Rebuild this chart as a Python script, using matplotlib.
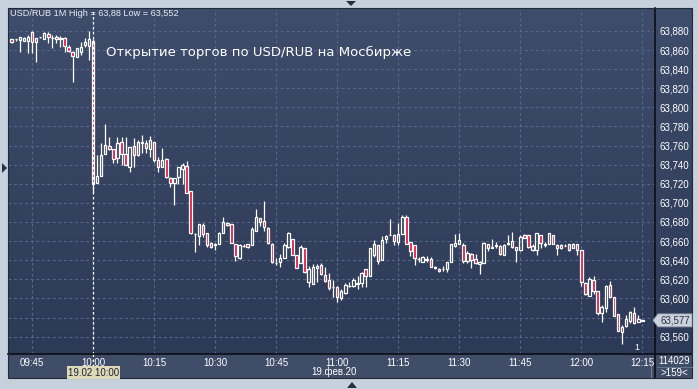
import matplotlib
matplotlib.use("Agg")
import matplotlib.pyplot as plt
import numpy as np
import pandas as pd
from matplotlib.patches import Rectangle, Polygon
from matplotlib.lines import Line2D
from matplotlib.ticker import FuncFormatter

# one-minute candles, 19.02.2020, starting 09:40
start_time = "2020-02-19 09:40"
opens = [
    63.8716, 63.8712, 63.8706, 63.8699, 63.8699, 63.8793, 63.8681, 63.8734, 63.8713, 63.8769,  # 09:40
    63.8723, 63.8713, 63.8720, 63.8723, 63.8636, 63.8584, 63.8531, 63.8584, 63.8653, 63.8646,  # 09:50
    63.8700, 63.7205, 63.7285, 63.7508, 63.7596, 63.7561, 63.7467, 63.7634, 63.7508, 63.7380,  # 10:00
    63.7596, 63.7502, 63.7632, 63.7630, 63.7561, 63.7641, 63.7450, 63.7373, 63.7457, 63.7264,  # 10:10
    63.7205, 63.7275, 63.7355, 63.7386, 63.7124, 63.6673, 63.6654, 63.6767, 63.6680, 63.6583,  # 10:20
    63.6563, 63.6565, 63.6686, 63.6791, 63.6775, 63.6567, 63.6426, 63.6547, 63.6567, 63.6559,  # 10:30
    63.6709, 63.6839, 63.6813, 63.6734, 63.6567, 63.6366, 63.6385, 63.6426, 63.6540, 63.6623,  # 10:40
    63.6456, 63.6368, 63.6525, 63.6169, 63.6151, 63.6322, 63.6350, 63.6245, 63.6193, 63.6115,  # 10:50
    63.6117, 63.6008, 63.6061, 63.6129, 63.6134, 63.6151, 63.6158, 63.6305, 63.6238, 63.6456,  # 11:00
    63.6562, 63.6404, 63.6618, 63.6665, 63.6667, 63.6590, 63.6677, 63.6851, 63.6590, 63.6559,  # 11:10
    63.6408, 63.6385, 63.6405, 63.6413, 63.6320, 63.6308, 63.6306, 63.6308, 63.6385, 63.6553,  # 11:20
    63.6570, 63.6562, 63.6391, 63.6462, 63.6409, 63.6361, 63.6370, 63.6566, 63.6530, 63.6546,  # 11:30
    63.6546, 63.6452, 63.6572, 63.6604, 63.6512, 63.6512, 63.6667, 63.6667, 63.6506, 63.6512,  # 11:40
    63.6667, 63.6564, 63.6566, 63.6667, 63.6562, 63.6559, 63.6547, 63.6570, 63.6531, 63.6570,  # 11:50
    63.6507, 63.6165, 63.6029, 63.6193, 63.6078, 63.5844, 63.5897, 63.6141, 63.6012, 63.5834,  # 12:00
    63.5652, 63.5715, 63.5768, 63.5844, 63.5757, 63.5768,  # 12:10
]
highs = [
    63.8720, 63.8720, 63.8734, 63.8734, 63.8758, 63.8800, 63.8723, 63.8741, 63.8793, 63.8793,
    63.8758, 63.8758, 63.8748, 63.8741, 63.8653, 63.8591, 63.8619, 63.8688, 63.8723, 63.8800,
    63.8713, 63.7502, 63.7624, 63.7826, 63.7693, 63.7561, 63.7693, 63.7693, 63.7693, 63.7589,
    63.7676, 63.7659, 63.7711, 63.7659, 63.7700, 63.7641, 63.7484, 63.7571, 63.7467, 63.7275,
    63.7258, 63.7373, 63.7421, 63.7439, 63.7124, 63.6680, 63.6779, 63.6789, 63.6684, 63.6592,
    63.6577, 63.6697, 63.6849, 63.6800, 63.6775, 63.6567, 63.6565, 63.6565, 63.6567, 63.6750,
    63.6936, 63.6839, 63.7020, 63.6750, 63.6577, 63.6420, 63.6462, 63.6577, 63.6697, 63.6623,
    63.6456, 63.6559, 63.6525, 63.6340, 63.6361, 63.6357, 63.6368, 63.6333, 63.6270, 63.6193,
    63.6131, 63.6096, 63.6165, 63.6176, 63.6211, 63.6235, 63.6280, 63.6305, 63.6525, 63.6607,
    63.6562, 63.6649, 63.6660, 63.6835, 63.6677, 63.6789, 63.6869, 63.6876, 63.6590, 63.6559,
    63.6437, 63.6448, 63.6440, 63.6430, 63.6340, 63.6322, 63.6340, 63.6378, 63.6570, 63.6674,
    63.6681, 63.6580, 63.6500, 63.6480, 63.6470, 63.6395, 63.6590, 63.6572, 63.6626, 63.6590,
    63.6556, 63.6572, 63.6667, 63.6691, 63.6534, 63.6663, 63.6677, 63.6667, 63.6572, 63.6688,
    63.6667, 63.6590, 63.6688, 63.6667, 63.6570, 63.6566, 63.6570, 63.6570, 63.6580, 63.6570,
    63.6507, 63.6176, 63.6222, 63.6235, 63.6078, 63.5931, 63.6141, 63.6183, 63.6012, 63.5834,
    63.5722, 63.5827, 63.5873, 63.5914, 63.5827, 63.5775,
]
lows = [
    63.8671, 63.8699, 63.8577, 63.8699, 63.8566, 63.8566, 63.8479, 63.8727, 63.8713, 63.8671,
    63.8619, 63.8671, 63.8636, 63.8584, 63.8584, 63.8270, 63.8531, 63.8549, 63.8636, 63.8496,
    63.7100, 63.7205, 63.7285, 63.7508, 63.7554, 63.7415, 63.7415, 63.7397, 63.7397, 63.7321,
    63.7380, 63.7490, 63.7526, 63.7520, 63.7484, 63.7432, 63.7328, 63.7373, 63.7258, 63.7163,
    63.6978, 63.7198, 63.7198, 63.7100, 63.6675, 63.6487, 63.6557, 63.6639, 63.6540, 63.6531,
    63.6507, 63.6565, 63.6686, 63.6753, 63.6577, 63.6392, 63.6413, 63.6535, 63.6525, 63.6559,
    63.6709, 63.6762, 63.6709, 63.6567, 63.6374, 63.6350, 63.6333, 63.6426, 63.6525, 63.6458,
    63.6317, 63.6368, 63.6270, 63.6123, 63.6151, 63.6176, 63.6245, 63.6176, 63.6088, 63.6013,
    63.5966, 63.5984, 63.6050, 63.6120, 63.6120, 63.6096, 63.6117, 63.6123, 63.6238, 63.6431,
    63.6356, 63.6404, 63.6583, 63.6660, 63.6556, 63.6556, 63.6670, 63.6572, 63.6439, 63.6350,
    63.6385, 63.6378, 63.6378, 63.6326, 63.6305, 63.6273, 63.6287, 63.6274, 63.6385, 63.6540,
    63.6570, 63.6370, 63.6370, 63.6322, 63.6363, 63.6256, 63.6370, 63.6493, 63.6525, 63.6528,
    63.6458, 63.6452, 63.6562, 63.6524, 63.6384, 63.6498, 63.6636, 63.6530, 63.6500, 63.6452,
    63.6530, 63.6534, 63.6566, 63.6566, 63.6458, 63.6520, 63.6545, 63.6497, 63.6524, 63.6455,
    63.6131, 63.6037, 63.6029, 63.6047, 63.5827, 63.5757, 63.5862, 63.6012, 63.5820, 63.5663,
    63.5520, 63.5705, 63.5740, 63.5733, 63.5750, 63.5765,
]
closes = [
    63.8681, 63.8716, 63.8734, 63.8730, 63.8741, 63.8688, 63.8723, 63.8737, 63.8776, 63.8734,
    63.8726, 63.8741, 63.8723, 63.8643, 63.8594, 63.8542, 63.8619, 63.8636, 63.8688, 63.8713,
    63.7195, 63.7282, 63.7500, 63.7606, 63.7565, 63.7457, 63.7624, 63.7508, 63.7397, 63.7589,
    63.7502, 63.7634, 63.7636, 63.7571, 63.7659, 63.7450, 63.7373, 63.7450, 63.7275, 63.7212,
    63.7258, 63.7373, 63.7397, 63.7107, 63.6680, 63.6677, 63.6779, 63.6675, 63.6557, 63.6540,
    63.6567, 63.6680, 63.6795, 63.6767, 63.6577, 63.6447, 63.6557, 63.6551, 63.6540, 63.6723,
    63.6849, 63.6797, 63.6745, 63.6577, 63.6385, 63.6370, 63.6420, 63.6559, 63.6686, 63.6458,
    63.6317, 63.6535, 63.6280, 63.6308, 63.6333, 63.6340, 63.6256, 63.6186, 63.6106, 63.6119,
    63.6019, 63.6078, 63.6141, 63.6133, 63.6193, 63.6165, 63.6270, 63.6235, 63.6525, 63.6572,
    63.6391, 63.6614, 63.6649, 63.6669, 63.6597, 63.6677, 63.6851, 63.6572, 63.6492, 63.6420,
    63.6412, 63.6431, 63.6415, 63.6333, 63.6324, 63.6287, 63.6310, 63.6378, 63.6570, 63.6577,
    63.6614, 63.6388, 63.6475, 63.6404, 63.6370, 63.6378, 63.6580, 63.6528, 63.6534, 63.6562,
    63.6462, 63.6562, 63.6583, 63.6534, 63.6534, 63.6646, 63.6636, 63.6536, 63.6548, 63.6681,
    63.6580, 63.6568, 63.6681, 63.6566, 63.6531, 63.6531, 63.6551, 63.6507, 63.6570, 63.6507,
    63.6176, 63.6047, 63.6204, 63.6082, 63.5851, 63.5914, 63.6131, 63.6019, 63.5820, 63.5663,
    63.5705, 63.5785, 63.5855, 63.5740, 63.5785, 63.5770,
]

time_ticks = ["09:45", "10:00", "10:15", "10:30", "10:45", "11:00",
              "11:15", "11:30", "11:45", "12:00", "12:15"]
price_ticks = [63.56, 63.58, 63.60, 63.62, 63.64, 63.66, 63.68, 63.70,
               63.72, 63.74, 63.76, 63.78, 63.80, 63.82, 63.84, 63.86, 63.88]
title = "USD/RUB 1M High = 63,88 Low = 63,552"
note = "Открытие торгов по USD/RUB на Мосбирже"
last_price = 63.577
open_marker = "10:00"

W, H = 698, 389
BG_TOP, BG_BOT = "#3e4d6b", "#2c3957"
GRID = "#58678a"
RED = "#e3173e"
FONT = ["Liberation Sans", "DejaVu Sans"]


def fx(x):
    return x / W


def fy(y):
    return 1 - y / H


def price_label(v, pos):
    # the label under the last-price tag is hidden, as on the terminal
    if abs(v - last_price) < 0.01:
        return ""
    return f"{v:.3f}".replace(".", ",")


times = pd.date_range(start_time, periods=len(opens), freq="min")
t0 = times[0]
xs = np.asarray((times - t0).total_seconds() / 60.0)
tick_pos = [(pd.Timestamp(f"2020-02-19 {t}") - t0).total_seconds() / 60.0 for t in time_ticks]
marker_x = (pd.Timestamp(f"2020-02-19 {open_marker}") - t0).total_seconds() / 60.0

fig = plt.figure(figsize=(W / 100, H / 100), dpi=100)
fig.patch.set_facecolor("#c6d1dd")

# dark chart background (plot + price scale) with vertical gradient
bg = fig.add_axes([fx(8), fy(354), fx(684), (354 - 8) / H], zorder=0)
grad = np.linspace(0, 1, 256).reshape(-1, 1)
cmap = matplotlib.colors.LinearSegmentedColormap.from_list("bg", [BG_TOP, BG_BOT])
bg.imshow(grad, aspect="auto", cmap=cmap, extent=[0, 1, 0, 1], origin="upper")
bg.set_axis_off()

# time-scale strip
fig.add_artist(Rectangle((fx(8), fy(378)), fx(684), 24 / H, transform=fig.transFigure,
                         facecolor="#3f4d69", edgecolor="none", zorder=1))

ax = fig.add_axes([fx(8), fy(354), fx(647), 345 / H], zorder=2)
ax.patch.set_alpha(0)
ax.set_xlim(-0.9, 158.1)
ax.set_ylim(63.5418, 63.903)

ax.set_xticks(tick_pos)
ax.set_xticklabels(time_ticks)
ax.set_yticks(price_ticks)
ax.yaxis.tick_right()
ax.yaxis.set_major_formatter(FuncFormatter(price_label))
ax.tick_params(axis="both", length=0, colors="white", labelsize=7)
ax.tick_params(axis="x", pad=3)
ax.tick_params(axis="y", pad=3.5)
for lab in ax.get_xticklabels() + ax.get_yticklabels():
    lab.set_family(FONT)
ax.grid(True, color=GRID, linestyle=(0, (2.5, 2.5)), linewidth=0.8)
for s in ax.spines.values():
    s.set_visible(False)

# candles
o = np.array(opens)
c = np.array(closes)
hi = np.array(highs)
lo = np.array(lows)
body_top = np.maximum(o, c)
body_bot = np.minimum(o, c)
up = c >= o
ax.vlines(xs, body_top, hi, color="white", linewidth=0.9, zorder=3)
ax.vlines(xs, lo, body_bot, color="white", linewidth=0.9, zorder=3)
ax.bar(xs, np.maximum(body_top - body_bot, 0.0004), bottom=body_bot, width=0.6,
       color=np.where(up, "none", RED), edgecolor="white", linewidth=0.9, zorder=4)

# session open marker
ax.axvline(marker_x, color="white", linestyle=(0, (2, 2)), linewidth=0.9, zorder=5)
mx_pix = 8 + (marker_x + 0.9) / 159.0 * 647
fig.add_artist(Line2D([fx(mx_pix)] * 2, [fy(354), fy(366)], transform=fig.transFigure,
                      color="white", linestyle=(0, (2, 2)), linewidth=0.9, zorder=3))

# separators and frame
fig.add_artist(Line2D([fx(655)] * 2, [fy(8), fy(378)], transform=fig.transFigure,
                      color="#0b0e15", linewidth=1.2, zorder=6))
fig.add_artist(Line2D([fx(8), fx(692)], [fy(354)] * 2, transform=fig.transFigure,
                      color="#0b0e15", linewidth=1.2, zorder=6))
fig.add_artist(Rectangle((fx(8), fy(378)), fx(684), 370 / H, transform=fig.transFigure,
                         facecolor="none", edgecolor="#222a3a", linewidth=0.8, zorder=6))
fig.add_artist(Line2D([fx(657), fx(692)], [fy(367)] * 2, transform=fig.transFigure,
                      color="#6c7a94", linewidth=0.6, zorder=6))
fig.add_artist(Line2D([fx(651)] * 2, [fy(358), fy(377)], transform=fig.transFigure,
                      color="#7b879c", linewidth=0.6, zorder=6))

# small navigation triangles on the outer border
tri_kw = dict(transform=fig.transFigure, facecolor="#263043", edgecolor="none", zorder=6)
fig.add_artist(Polygon([(fx(2), fy(163)), (fx(2), fy(173)), (fx(7), fy(168))], **tri_kw))
fig.add_artist(Polygon([(fx(346), fy(1)), (fx(356), fy(1)), (fx(351), fy(6))], **tri_kw))
fig.add_artist(Polygon([(fx(347), fy(388)), (fx(357), fy(388)), (fx(352), fy(382))], **tri_kw))

# texts
fig.text(fx(10), fy(14), title, color="#e6ebf2", fontsize=6.6, family=FONT,
         ha="left", va="center", zorder=7)
ax.text(marker_x + 3.3, 63.8580, note, color="white", fontsize=9.5, family="DejaVu Sans",
        ha="left", va="center", zorder=7)
fig.text(fx(637), fy(348), "1", color="white", fontsize=6.5, family=FONT,
         ha="center", va="center", zorder=7)

# last price tag
y_last = ax.transData.transform((0, last_price))[1]
y_last_px = H - y_last
tag = [(653, y_last_px), (658, y_last_px - 6.5), (692, y_last_px - 6.5),
       (692, y_last_px + 6.5), (658, y_last_px + 6.5)]
fig.add_artist(Polygon([(fx(a), fy(b)) for a, b in tag], transform=fig.transFigure,
                       facecolor="#ccd2db", edgecolor="#8f99aa", linewidth=0.6, zorder=7))
fig.text(fx(675), fy(y_last_px), f"{last_price:.3f}".replace(".", ","), color="#26324c",
         fontsize=7, family=FONT, ha="center", va="center", zorder=8)

# time-scale extras
fig.add_artist(Rectangle((fx(67), fy(379)), fx(53), 13 / H, transform=fig.transFigure,
                         facecolor="#dedab9", edgecolor="none", zorder=7))
fig.text(fx(93.5), fy(372.5), "19.02 10:00", color="#1c2230", fontsize=7, family=FONT,
         ha="center", va="center", zorder=8)
fig.text(fx(334), fy(372), "19.фев.20", color="white", fontsize=7, family=FONT,
         ha="center", va="center", zorder=7)
fig.text(fx(674), fy(361), "114029", color="white", fontsize=7, family=FONT,
         ha="center", va="center", zorder=7)
fig.text(fx(674), fy(373), ">159<", color="white", fontsize=7, family=FONT,
         ha="center", va="center", zorder=7)

fig.savefig("out.png", dpi=100)
